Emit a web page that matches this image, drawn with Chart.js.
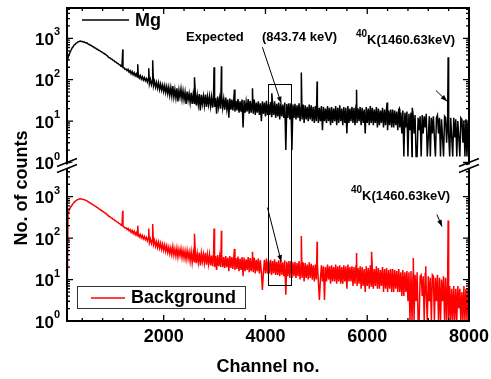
<!doctype html>
<html lang="en">
<head>
<meta charset="utf-8">
<title>Mg and background gamma spectra</title>
<script src="https://cdn.jsdelivr.net/npm/chart.js@4/dist/chart.umd.min.js"></script>
<style>
  html, body { margin: 0; padding: 0; background: #fff; }
  #spec { display: block; }
</style>
</head>
<body>
<canvas id="spec" width="491" height="379"></canvas>
<script>
// channels of the sampled spectra: CH_START, CH_START + CH_STEP, ... up to 8000
var CH_START = 100, CH_STEP = 20;

// Mg sample counts (20 values per 400 channels)
var mgCounts = [
  260, 335, 395, 465, 515, 585, 625, 690, 715, 770, 785, 830, 835, 855, 840, 840, 815, 810, 785, 780,
  760, 720, 712, 675, 668, 635, 625, 592, 585, 553, 545, 515, 508, 482, 472, 450, 440, 418, 410, 385,
  370, 345, 342, 318, 316, 296, 292, 272, 270, 252, 248, 232, 230, 212, 210, 196, 194, 178, 182, 165,
  178, 152, 165, 140, 158, 132, 148, 125, 140, 116, 133, 110, 126, 104, 118, 98, 112, 94, 106, 88,
  108, 80, 102, 76, 96, 72, 92, 66, 86, 62, 84, 58, 78, 56, 74, 52, 72, 49, 68, 46,
  66, 42, 64, 40, 70, 38, 58, 36, 62, 30, 56, 38, 60, 34, 54, 33, 50, 26, 52, 32,
  46, 28, 48, 26, 44, 27, 52, 24, 42, 25, 45, 18, 43, 26, 40, 24, 44, 22, 39, 25,
  40, 23, 38, 21, 42, 22, 36, 15, 39, 22, 35, 20, 41, 21, 34, 19, 37, 20, 33, 12,
  35, 19, 33, 18, 36, 17, 31, 18, 34, 16, 30, 17, 33, 7, 32, 16, 29, 17, 34, 15,
  31, 16, 29, 15, 33, 14, 28, 16, 30, 14, 27, 10, 30, 15, 28, 13, 31, 14, 26, 14,
  29, 13, 27, 14, 30, 12, 26, 13, 28, 11, 27, 13, 25, 12, 28, 2, 26, 12, 27, 11,
  27, 2, 25, 12, 26, 11, 24, 12, 27, 10, 23, 11, 25, 9, 24, 11, 22, 10, 25, 11,
  24, 10, 22, 9, 23, 10, 26, 9, 21, 10, 23, 6, 22, 10, 20, 9, 23, 10, 21, 8,
  22, 9, 20, 10, 23, 8, 21, 9, 24, 10, 20, 8, 22, 9, 21, 5, 23, 9, 20, 10,
  22, 9, 21, 8, 24, 9, 20, 10, 22, 8, 21, 9, 19, 5, 22, 9, 20, 8, 23, 9,
  21, 8, 19, 9, 22, 7, 20, 8, 18, 9, 21, 7, 19, 8, 20, 6, 18, 8, 19, 7,
  19, 7, 18, 8, 17, 6, 19, 7, 16, 5, 18, 1.4, 16, 7, 17, 1.4, 15, 6, 16, 1.4,
  15, 5, 14, 1.4, 1.4, 12, 6, 13, 1.4, 14, 5, 13, 7, 15, 1.4, 4, 13, 1.4, 12, 5,
  13, 4, 1.4, 12, 14, 5, 12, 1.4, 11, 4, 1.4, 13, 12, 3, 11, 5, 1.4, 12, 4, 1.4,
  12, 4, 11, 1.4, 10, 4, 1.4, 12, 11, 3, 10, 1.4, 11, 1.4, 9, 4
];
var mgPeakCh     = [1196, 1490, 1706, 1784, 2605, 2990, 3135, 3390, 3745, 4125, 4705, 5015, 5790, 6390, 6630, 6885, 7590];
var mgPeakCounts = [ 540,  235,  190,  295,  115,  200,  210,   58,   62,   47,  150,   91,   57,   28,   20,   21,  350];

// background sample counts
var bgCounts = [
  1, 420, 470, 530, 580, 630, 680, 730, 770, 810, 840, 865, 880, 890, 885, 875, 860, 845, 825, 805,
  780, 745, 730, 695, 680, 648, 635, 600, 590, 560, 548, 518, 505, 478, 468, 440, 432, 408, 400, 375,
  362, 338, 334, 312, 308, 290, 285, 266, 262, 246, 242, 226, 222, 208, 205, 192, 188, 175, 178, 162,
  172, 150, 162, 138, 154, 130, 146, 122, 138, 114, 130, 108, 123, 102, 116, 96, 110, 92, 104, 86,
  102, 78, 96, 74, 92, 70, 88, 64, 82, 60, 80, 57, 75, 54, 71, 51, 68, 48, 65, 45,
  60, 42, 58, 40, 62, 39, 55, 37, 57, 35, 53, 38, 55, 34, 51, 33, 49, 31, 50, 32,
  46, 28, 47, 26, 44, 27, 50, 25, 42, 26, 45, 22, 43, 27, 41, 25, 44, 23, 40, 24,
  40, 22, 38, 21, 41, 20, 37, 17, 39, 21, 36, 20, 40, 20, 35, 19, 37, 20, 34, 16,
  37, 19, 35, 18, 38, 17, 33, 18, 36, 16, 32, 17, 35, 12, 34, 16, 31, 17, 35, 15,
  33, 16, 31, 15, 34, 14, 30, 16, 32, 14, 29, 15, 5.6, 15, 30, 14, 32, 14, 28, 14,
  30, 13, 28, 14, 31, 13, 27, 13, 29, 12, 28, 13, 26, 12, 29, 4.3, 27, 12, 28, 11,
  28, 11, 26, 12, 27, 11, 25, 12, 28, 10, 24, 11, 26, 9, 25, 11, 23, 10, 26, 11,
  24, 10, 22, 9, 23, 10, 24, 9, 3.2, 10, 22, 9, 21, 3.2, 20, 9, 23, 10, 21, 8,
  22, 9, 20, 9, 23, 8, 21, 9, 22, 8, 20, 8, 22, 9, 21, 6, 23, 9, 20, 9,
  21, 7, 20, 8, 22, 7, 19, 8, 21, 6, 20, 7, 18, 5, 21, 7, 19, 6, 22, 7,
  20, 6, 18, 7, 21, 6, 19, 6, 17, 7, 20, 5, 18, 6, 19, 5, 17, 6, 18, 5,
  18, 5, 17, 6, 16, 5, 18, 5, 15, 4, 17, 4, 15, 5, 16, 3, 15, 1, 16, 1,
  14, 1, 13, 3, 15, 1, 1, 12, 13, 4, 12, 1, 14, 5, 1, 12, 3, 11, 1, 13,
  12, 1, 11, 3, 13, 1, 11, 1, 10, 3, 12, 1, 11, 1, 10, 1, 7, 1, 6, 1,
  7, 1, 6, 1, 7, 2, 6, 1, 5, 1, 7, 1, 6, 1, 6, 1
];
var bgPeakCh     = [1196, 1490, 1706, 1784, 2605, 2990, 3135, 3390, 3745, 4705, 5015, 5790, 6085, 6905, 7150, 7590];
var bgPeakCounts = [ 460,  200,  170,  220,  127,  170,  150,   55,   47,  113,   82,   44,   47,   33,   21,  265];

var xTickValues = [2000, 4000, 6000, 8000];
var yDecades = [0, 1, 2, 3];

function buildSeries(counts, peakCh, peakCounts) {
  var pts = counts.map(function (v, i) { return { x: CH_START + i * CH_STEP, y: v }; });
  peakCh.forEach(function (c, k) { pts.push({ x: c, y: peakCounts[k] }); });
  pts.sort(function (a, b) { return a.x - b.x; });
  return pts;
}

var FONT = '"Liberation Sans", Arial, sans-serif';

function arrow(c, x1, y1, x2, y2) {
  var ang = Math.atan2(y2 - y1, x2 - x1), h = 7;
  c.beginPath(); c.moveTo(x1, y1); c.lineTo(x2, y2); c.stroke();
  c.beginPath();
  c.moveTo(x2, y2);
  c.lineTo(x2 - h * Math.cos(ang - 0.35), y2 - h * Math.sin(ang - 0.35));
  c.lineTo(x2 - h * Math.cos(ang + 0.35), y2 - h * Math.sin(ang + 0.35));
  c.closePath(); c.fill();
}

var framePlugin = {
  id: 'frame',
  afterDraw: function (chart) {
    var c = chart.ctx, a = chart.chartArea;
    var xs = chart.scales.x, yt = chart.scales.yTop, yb = chart.scales.yBot;
    var L = a.left, R = a.right, T = a.top, B = a.bottom, J = yt.bottom;
    c.save();
    c.strokeStyle = '#000'; c.fillStyle = '#000';

    // box round both panels
    c.lineWidth = 2;
    c.strokeRect(L, T, R - L, B - T);

    // ticks, all pointing inward
    c.lineWidth = 1.3;
    c.beginPath();
    for (var ch = 400; ch < 8000; ch += 400) {
      var px = xs.getPixelForValue(ch), len = ch % 2000 === 0 ? 6 : 3;
      c.moveTo(px, B); c.lineTo(px, B - len);
      c.moveTo(px, T); c.lineTo(px, T + len);
    }
    [yt, yb].forEach(function (s) {
      for (var k = 0; k < 4; k++) {
        for (var m = 1; m < 10; m++) {
          var v = m * Math.pow(10, k);
          if (v > s.max) break;
          var py = s.getPixelForValue(v), l2 = m === 1 ? 6 : 3;
          c.moveTo(L, py); c.lineTo(L + l2, py);
          c.moveTo(R, py); c.lineTo(R - l2, py);
        }
      }
    });
    c.stroke();

    // axis breaks
    [L, R].forEach(function (bx) {
      c.fillStyle = '#fff';
      c.beginPath();
      c.moveTo(bx - 10, J + 6); c.lineTo(bx + 10, J - 2);
      c.lineTo(bx + 10, J + 2); c.lineTo(bx - 10, J + 10);
      c.closePath(); c.fill();
      c.strokeStyle = '#000'; c.lineWidth = 1.5;
      c.beginPath();
      c.moveTo(bx - 10, J + 4); c.lineTo(bx + 10, J - 4);
      c.moveTo(bx - 10, J + 10); c.lineTo(bx + 10, J + 2);
      c.stroke();
    });
    c.fillStyle = '#000';

    // y tick labels 10^k
    c.textBaseline = 'middle';
    [yt, yb].forEach(function (s) {
      yDecades.forEach(function (k) {
        var py = s.getPixelForValue(Math.pow(10, k));
        c.textAlign = 'right';
        c.font = 'bold 17px ' + FONT;
        c.fillText('10', L - 13, py + 2);
        c.textAlign = 'left';
        c.font = 'bold 11px ' + FONT;
        c.fillText(String(k), L - 13, py - 6);
      });
    });

    // x tick labels
    c.textAlign = 'center';
    c.font = 'bold 18px ' + FONT;
    xTickValues.forEach(function (v) {
      c.fillText(String(v), xs.getPixelForValue(v), B + 16);
    });

    // axis titles
    c.fillText('Channel no.', (L + R) / 2, 367);
    c.save();
    c.translate(22, 188);
    c.rotate(-Math.PI / 2);
    c.fillText('No. of counts', 0, 0);
    c.restore();

    // legends
    c.lineWidth = 1.5;
    c.strokeStyle = '#000';
    c.beginPath(); c.moveTo(82, 20); c.lineTo(129, 20); c.stroke();
    c.textAlign = 'left';
    c.fillText('Mg', 135, 21);

    c.fillStyle = '#fff';
    c.fillRect(77, 286, 168, 22);
    c.strokeStyle = '#333'; c.lineWidth = 1;
    c.strokeRect(77.5, 286.5, 168, 22);
    c.strokeStyle = '#ff0000'; c.lineWidth = 1.5;
    c.beginPath(); c.moveTo(91, 298); c.lineTo(125, 298); c.stroke();
    c.fillStyle = '#000';
    c.fillText('Background', 131, 298);

    // expected 843.74 keV window
    c.strokeStyle = '#000'; c.lineWidth = 1;
    var rx1 = xs.getPixelForValue(4050), rx2 = xs.getPixelForValue(4500);
    var ry1 = yt.getPixelForValue(77), ry2 = yb.getPixelForValue(7.4);
    c.strokeRect(Math.round(rx1) + 0.5, Math.round(ry1) + 0.5, Math.round(rx2 - rx1), Math.round(ry2 - ry1));
    arrow(c, xs.getPixelForValue(3940), yt.getPixelForValue(610), xs.getPixelForValue(4310), yt.getPixelForValue(27));
    arrow(c, xs.getPixelForValue(4040), yb.getPixelForValue(545), xs.getPixelForValue(4310), yb.getPixelForValue(27));
    c.font = 'bold 13px ' + FONT;
    c.fillText('Expected', 186, 37);
    c.fillText('(843.74 keV)', 262, 37);

    // 40K lines
    arrow(c, xs.getPixelForValue(7350), yt.getPixelForValue(55), xs.getPixelForValue(7570), yt.getPixelForValue(30));
    arrow(c, xs.getPixelForValue(7370), yb.getPixelForValue(370), xs.getPixelForValue(7470), yb.getPixelForValue(190));
    c.font = 'bold 13px ' + FONT;
    c.fillText('K(1460.63keV)', 367, 40);
    c.fillText('K(1460.63keV)', 362, 196);
    c.font = 'bold 10px ' + FONT;
    c.fillText('40', 356, 34);
    c.fillText('40', 351, 190);

    c.restore();
  }
};

new Chart(document.getElementById('spec'), {
  type: 'line',
  data: {
    datasets: [
      {
        label: 'Mg',
        data: buildSeries(mgCounts, mgPeakCh, mgPeakCounts),
        yAxisID: 'yTop',
        borderColor: '#000',
        borderWidth: 1.5,
        pointRadius: 0,
        tension: 0
      },
      {
        label: 'Background',
        data: buildSeries(bgCounts, bgPeakCh, bgPeakCounts),
        yAxisID: 'yBot',
        borderColor: '#ff0000',
        borderWidth: 1.5,
        pointRadius: 0,
        tension: 0
      }
    ]
  },
  options: {
    responsive: false,
    animation: false,
    devicePixelRatio: 1,
    layout: { padding: { left: 67, right: 22, top: 8, bottom: 58 } },
    plugins: { legend: { display: false }, tooltip: { enabled: false } },
    scales: {
      x: { type: 'linear', min: 100, max: 8000, display: false },
      yBot: { type: 'logarithmic', position: 'left', stack: 'counts', stackWeight: 158, min: 1, max: 6700, display: false },
      yTop: { type: 'logarithmic', position: 'left', stack: 'counts', stackWeight: 154, min: 1, max: 5400, display: false }
    }
  },
  plugins: [framePlugin]
});
</script>
</body>
</html>
